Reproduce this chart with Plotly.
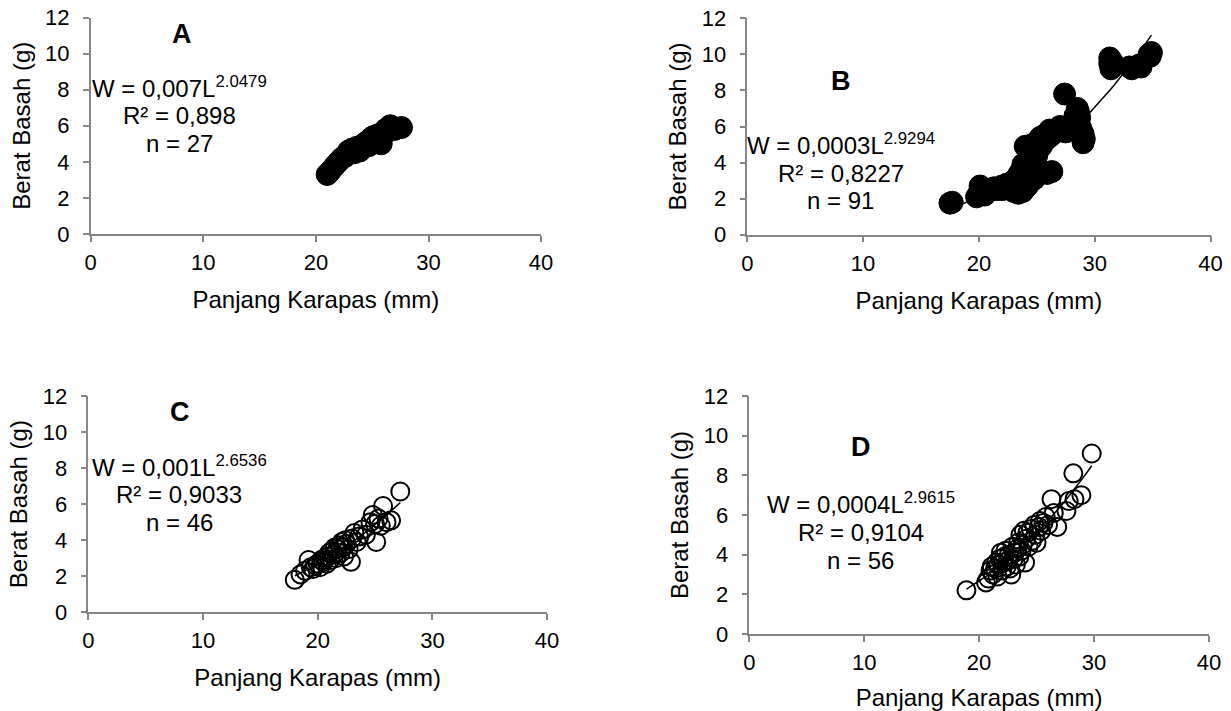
import numpy as np
import plotly.graph_objects as go

W_PX, H_PX = 1231, 711

# ---------------- data ----------------
A_L = [21.0, 21.3, 21.7, 22.0, 22.3, 22.6, 22.9, 23.2, 23.4, 23.6, 23.9, 24.1, 24.3, 24.5,
       24.7, 24.9, 25.1, 25.3, 25.5, 25.8, 26.0, 26.2, 26.4, 26.6, 26.8, 27.0, 27.6]
A_W = [3.3, 3.5, 3.8, 4.0, 4.2, 4.3, 4.6, 4.7, 4.5, 4.8, 4.6, 4.9, 5.0, 5.1,
       4.9, 5.3, 5.4, 5.2, 5.5, 5.0, 5.6, 5.8, 5.7, 6.0, 5.9, 5.8, 5.9]

B_L = [17.5, 17.7, 19.8, 20.0, 20.1, 20.3, 20.5, 20.8, 21.0, 21.3, 21.5, 21.8, 22.0, 22.2,
       22.4, 22.6, 22.8, 23.0, 23.1, 23.2, 23.3, 23.4, 23.5, 23.5, 23.6, 23.7, 23.8, 23.8,
       23.9, 24.0, 24.0, 24.1, 24.2, 24.2, 24.3, 24.4, 24.4, 24.5, 24.6, 24.6, 24.7, 24.8,
       24.8, 24.9, 25.0, 25.0, 25.1, 25.2, 25.3, 25.4, 25.5, 25.5, 25.6, 25.8, 25.9, 26.0,
       26.1, 26.2, 26.3, 26.4, 26.6, 26.8, 27.0, 27.2, 27.4, 27.5, 27.7, 28.0, 28.3, 28.5,
       28.6, 28.7, 28.8, 28.9, 29.0, 29.0, 29.1, 31.3, 31.3, 31.4, 31.5, 33.0, 33.2, 33.5,
       33.8, 34.0, 34.7, 34.9, 34.8, 23.0, 22.0]
B_W = [1.75, 1.8, 2.1, 2.3, 2.7, 2.5, 2.2, 2.4, 2.5, 2.6, 2.5, 2.6, 2.7, 2.6,
       2.8, 2.7, 2.9, 2.8, 3.0, 2.5, 3.2, 2.3, 2.6, 3.4, 3.0, 3.6, 2.4, 3.9,
       2.8, 3.2, 4.9, 3.5, 4.0, 2.7, 3.8, 3.0, 4.5, 3.3, 4.2, 5.0, 3.6, 3.1,
       4.7, 3.4, 5.1, 4.4, 3.7, 5.2, 5.4, 4.9, 3.5, 5.3, 5.5, 5.4, 3.4, 5.6,
       5.8, 5.5, 3.5, 5.7, 5.8, 5.9, 6.0, 5.8, 7.8, 5.7, 6.0, 5.9, 6.6, 7.0,
       6.8, 6.5, 5.9, 5.5, 5.1, 5.6, 5.3, 9.8, 9.5, 9.2, 9.6, 9.3, 9.2, 9.3,
       9.4, 9.3, 10.0, 10.1, 9.9, 2.4, 2.5]

C_L = [18.0, 18.5, 18.9, 19.2, 19.4, 19.6, 19.8, 20.0, 20.2, 20.3, 20.5, 20.6, 20.8, 20.9,
       21.0, 21.1, 21.2, 21.4, 21.5, 21.6, 21.7, 21.9, 22.0, 22.1, 22.2, 22.3, 22.4, 22.5,
       22.7, 22.9, 23.0, 23.2, 23.4, 23.6, 23.9, 24.2, 24.6, 24.8, 25.0, 25.1, 25.3, 25.5,
       25.7, 26.0, 26.4, 27.2]
C_W = [1.8, 2.1, 2.3, 2.9, 2.5, 2.4, 2.6, 2.7, 2.5, 2.9, 2.8, 3.0, 2.7, 3.1,
       3.3, 2.9, 3.4, 3.2, 3.6, 3.0, 3.5, 3.7, 3.3, 3.9, 3.6, 3.1, 4.0, 3.8,
       3.5, 2.8, 4.1, 4.4, 3.9, 4.2, 4.6, 4.3, 5.0, 5.4, 4.9, 3.9, 5.2, 4.8,
       5.9, 5.0, 5.1, 6.7]

D_L = [18.9, 20.6, 20.8, 21.0, 21.1, 21.2, 21.4, 21.5, 21.6, 21.7, 21.8, 21.9, 22.0, 22.1,
       22.2, 22.3, 22.4, 22.5, 22.6, 22.7, 22.8, 22.9, 23.0, 23.1, 23.2, 23.3, 23.4, 23.5,
       23.6, 23.7, 23.8, 23.9, 24.0, 24.1, 24.2, 24.3, 24.5, 24.6, 24.8, 24.9, 25.0, 25.2,
       25.3, 25.4, 25.6, 25.8, 26.0, 26.3, 26.5, 26.8, 27.6, 27.8, 28.2, 28.3, 28.9, 29.8]
D_W = [2.2, 2.6, 2.8, 3.2, 3.4, 3.0, 3.3, 3.6, 2.9, 3.5, 3.8, 4.1, 3.2, 3.6,
       3.9, 4.2, 3.4, 3.7, 4.0, 3.3, 3.0, 4.4, 3.8, 4.1, 3.5, 4.3, 4.6, 3.9,
       5.0, 4.2, 4.5, 5.2, 3.6, 4.8, 5.1, 4.4, 5.3, 4.7, 5.5, 5.0, 4.6, 5.4,
       5.7, 5.2, 5.6, 5.9, 5.5, 6.8, 6.1, 5.4, 6.2, 6.7, 8.1, 6.8, 7.0, 9.1]

PANEL_LABELS = ["A", "B", "C", "D"]
EQUATIONS = [
    ["W = 0,007L<sup>2.0479</sup>", "R² = 0,898", "n = 27"],
    ["W = 0,0003L<sup>2.9294</sup>", "R² = 0,8227", "n = 91"],
    ["W = 0,001L<sup>2.6536</sup>", "R² = 0,9033", "n = 46"],
    ["W = 0,0004L<sup>2.9615</sup>", "R² = 0,9104", "n = 56"],
]
X_TITLE = "Panjang Karapas (mm)"
Y_TITLE = "Berat Basah (g)"
X_TICKS = [0, 10, 20, 30, 40]
Y_TICKS = [0, 2, 4, 6, 8, 10, 12]

# ---------------- layout geometry (pixels) ----------------
# (x of 0, x of 40, y of 0, y of 12)
PANEL_PX = [
    (90.7, 541.1, 234.0, 17.5),
    (747.3, 1210.5, 234.7, 18.3),
    (88.3, 547.1, 612.3, 396.0),
    (749.3, 1208.9, 634.0, 396.0),
]
LABEL_PX = [(182, 34), (841, 81), (180, 412), (861, 447)]
EQ_PX = [(179, [89.5, 117, 144.5]), (840.5, [147, 174.5, 202]),
         (179, [468.5, 496, 523.5]), (860.5, [506, 534, 561.5])]

FONT = "Liberation Sans, Arial, sans-serif"
AXIS_COLOR = "#868686"

datasets = [(A_L, A_W, True), (B_L, B_W, True), (C_L, C_W, False), (D_L, D_W, False)]

fig = go.Figure()
layout = dict(
    width=W_PX, height=H_PX, margin=dict(l=0, r=0, t=0, b=0, autoexpand=False),
    paper_bgcolor="white", plot_bgcolor="white", showlegend=False,
    font=dict(family=FONT, color="black", size=22),
)
annotations = []

for i, (L, Wt, filled) in enumerate(datasets):
    xa = "x" if i == 0 else f"x{i+1}"
    ya = "y" if i == 0 else f"y{i+1}"
    x0, x1, y0, y1 = PANEL_PX[i]
    dom_x = [x0 / W_PX, x1 / W_PX]
    dom_y = [1 - y0 / H_PX, 1 - y1 / H_PX]
    axis_common = dict(
        showgrid=False, zeroline=False, showline=True, linecolor=AXIS_COLOR, linewidth=1.5,
        ticks="outside", ticklen=6, tickcolor=AXIS_COLOR, tickwidth=1.5, automargin=False,
        tickfont=dict(family=FONT, size=22, color="black"), fixedrange=True,
    )
    layout["xaxis" + ("" if i == 0 else str(i + 1))] = dict(
        axis_common, domain=dom_x, range=[0, 40], tickvals=X_TICKS, anchor=ya,
        ticklabelstandoff=2,
        title=dict(text=X_TITLE, font=dict(family=FONT, size=24, color="black"), standoff=17),
    )
    layout["yaxis" + ("" if i == 0 else str(i + 1))] = dict(
        axis_common, domain=dom_y, range=[0, 12], tickvals=Y_TICKS, anchor=xa,
        ticklabelstandoff=9,
        title=dict(text=Y_TITLE, font=dict(family=FONT, size=24, color="black"), standoff=8),
    )

    marker = dict(size=22, color="black", line=dict(color="black", width=1)) if filled else \
        dict(size=18, color="rgba(0,0,0,0)", line=dict(color="black", width=2))
    fig.add_trace(go.Scatter(x=L, y=Wt, mode="markers", marker=marker, xaxis=xa, yaxis=ya,
                             hoverinfo="skip"))

    # power trendline fitted from the data (Excel-style log-log regression)
    b, ln_a = np.polyfit(np.log(L), np.log(Wt), 1)
    xs = np.linspace(min(L), max(L), 60)
    ys = np.exp(ln_a) * xs ** b
    fig.add_trace(go.Scatter(x=xs, y=ys, mode="lines", line=dict(color="black", width=1.5),
                             xaxis=xa, yaxis=ya, hoverinfo="skip"))

    lx, ly = LABEL_PX[i]
    annotations.append(dict(text=f"<b>{PANEL_LABELS[i]}</b>", x=lx / W_PX, y=1 - ly / H_PX,
                            xref="paper", yref="paper", showarrow=False, xanchor="center",
                            yanchor="middle", font=dict(family=FONT, size=27, color="black")))
    ex, eys = EQ_PX[i]
    for line, ey in zip(EQUATIONS[i], eys):
        annotations.append(dict(text=line, x=ex / W_PX, y=1 - (ey + 14) / H_PX,
                                xref="paper", yref="paper", showarrow=False, xanchor="center",
                                yanchor="bottom", font=dict(family=FONT, size=24, color="black")))

layout["annotations"] = annotations
fig.update_layout(**layout)
fig.write_html("out.html", config={"displayModeBar": False},
               post_script="document.body.style.margin='0';")
